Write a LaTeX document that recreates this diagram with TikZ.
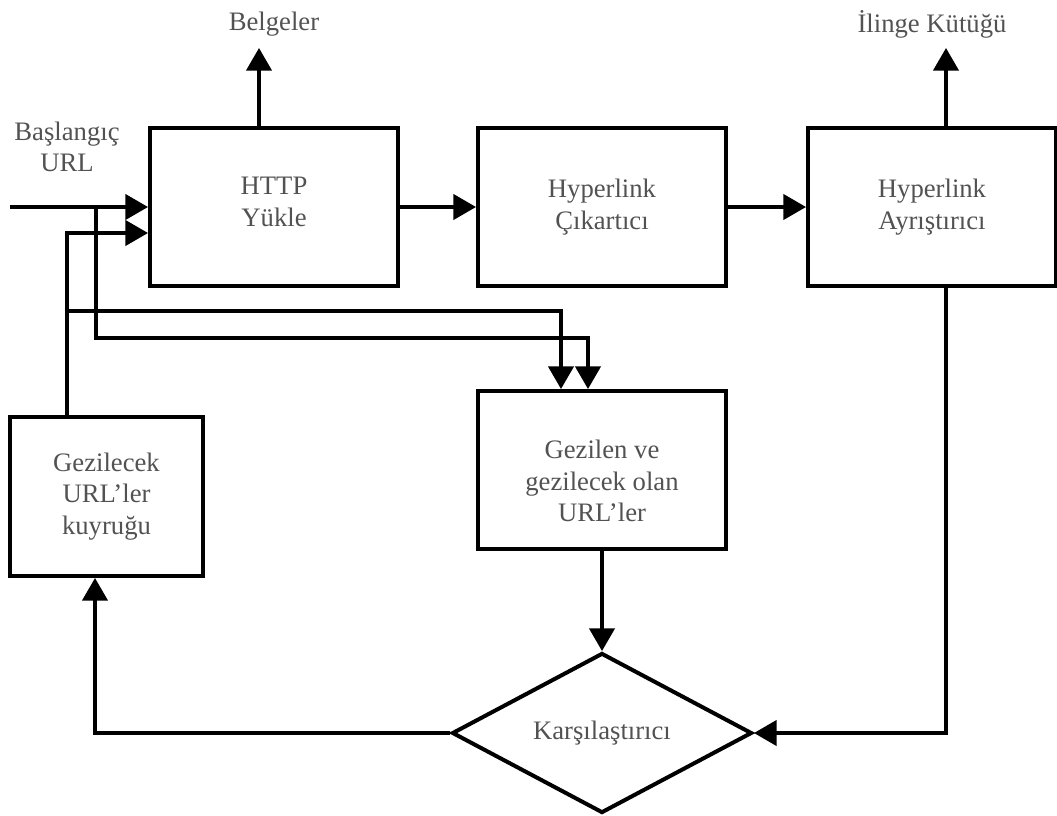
\documentclass[tikz,border=0pt]{standalone}
\usepackage{fontspec}
\setmainfont{Liberation Serif}
\usetikzlibrary{arrows.meta,shapes.geometric,calc}
\begin{document}
\begin{tikzpicture}[x=0.75pt,y=-0.75pt,
  lbl/.style={text=black!68,font=\fontsize{20}{23.5}\selectfont,align=center},
  blk/.style={draw,line width=3pt,rectangle,inner sep=0pt,lbl},
  arr/.style={line width=2.4pt,-{Triangle[length=17pt,width=19pt]}},
  ln/.style={line width=2.4pt}]
\useasboundingbox (0,0) rectangle (1057,815);
% boxes
\node[blk,minimum width=186pt,minimum height=118.5pt] (http) at (274,207) {};
\node[lbl] (httpt) at (274,202) {HTTP\\Yükle};
\node[blk,minimum width=186pt,minimum height=118.5pt] (cik) at (602,207) {Hyperlink\\Çıkartıcı};
\node[blk,minimum width=186pt,minimum height=118.5pt] (ayr) at (932,207) {Hyperlink\\Ayrıştırıcı};
\node[blk,minimum width=144.75pt,minimum height=119.25pt] (kuy) at (106.5,496.5) {Gezilecek\\URL’ler\\kuyruğu};
\node[blk,minimum width=186pt,minimum height=118.5pt] (gez) at (602,470) {};
\node[lbl] (gezt) at (602,481) {Gezilen ve\\gezilecek olan\\URL’ler};
\node[draw,line width=3pt,diamond,aspect=1.875,inner sep=0pt,minimum width=225pt,minimum height=120pt,lbl] (dia) at (602,733) {Karşılaştırıcı};
% labels
\node[lbl] (bas) at (67,147) {Başlangıç\\URL};
\node[lbl] (belg) at (274,24) {Belgeler};
\node[lbl] (ilin) at (932,24) {İlinge Kütüğü};
% coordinates
\coordinate (start) at (10,207);
\coordinate (j1) at (96,207);
\coordinate (in2) at (67,233);
\coordinate (r1) at (67,311);
\coordinate (r2) at (96,338);
\coordinate (g1) at (561,338);
\coordinate (g2) at (588,338);
\coordinate (btip) at (259,48);
\coordinate (itip) at (946,48);
\coordinate (ax) at (946,0);
\coordinate (qx) at (95,0);
% connectors
\draw[arr] (start) -- (http.west |- start);
\draw[arr] (kuy.north -| in2) -- (in2) -- (http.west |- in2);
\draw[arr] (r1) -| (gez.north -| g1);
\draw[arr] (j1) -- (r2) -| (gez.north -| g2);
\draw[arr] (http.east) -- (cik.west);
\draw[arr] (cik.east) -- (ayr.west);
\draw[arr] (http.north -| btip) -- (btip);
\draw[arr] (ayr.north -| itip) -- (itip);
\draw[arr] (ayr.south -| ax) |- (dia.east);
\draw[arr] (gez.south) -- (dia.north);
\draw[arr] (dia.west) -| (kuy.south -| qx);
\end{tikzpicture}
\end{document}
